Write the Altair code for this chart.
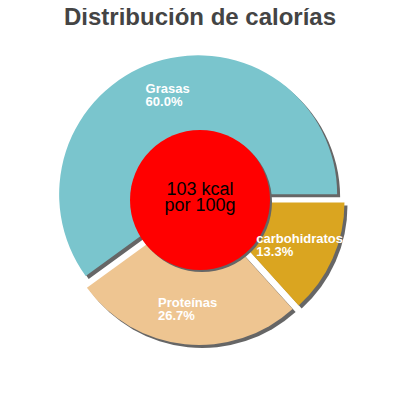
import math
import altair as alt
import pandas as pd

# ---- data ----
names = ["carbohidratos", "Proteínas", "Grasas"]
percents = [13.3, 26.7, 60.0]
colors = ["#DAA520", "#EEC591", "#7AC5CD"]
order = [0, 1, 2]
title_text = ["Distribución de calorías"]
center_text = ["103 kcal\npor 100g"]

df = pd.DataFrame({"name": names, "pct": percents, "ord": order})

# ---- geometry / style ----
TOP = 8
CX, CY = 192, 192 - TOP
R = 139
EXPLODE = 6
LABEL_R = 110
SHADOW = "#666666"

base = (
    alt.Chart(df)
    .transform_joinaggregate(total="sum(pct)")
    .transform_window(cum="sum(pct)", sort=[alt.SortField("ord")], frame=[None, 0])
    .transform_calculate(t1="PI/2 + 2*PI*(datum.cum - datum.pct)/datum.total")
    .transform_calculate(t2="PI/2 + 2*PI*datum.cum/datum.total")
    .transform_calculate(mid="(datum.t1 + datum.t2)/2")
    .transform_calculate(ox=f"{CX} + {EXPLODE}*sin(datum.mid)")
    .transform_calculate(oy=f"{CY} - {EXPLODE}*cos(datum.mid)")
    .transform_calculate(label="datum.name + '\\n' + format(datum.pct, '.1f') + '%'")
    .transform_calculate(lx=f"{CX} + {LABEL_R}*sin(datum.mid) - length(datum.name)*3.4")
    .transform_calculate(ly=f"{CY} - {LABEL_R}*cos(datum.mid)")
)

enc_pos = dict(
    x=alt.X("ox:Q", scale=None, axis=None),
    y=alt.Y("oy:Q", scale=None, axis=None),
    theta=alt.Theta("t1:Q", scale=None, stack=None),
    theta2="t2:Q",
)

shadows = base.mark_arc(radius=R, color=SHADOW, xOffset=3, yOffset=3).encode(**enc_pos)

slices = base.mark_arc(radius=R).encode(
    color=alt.Color("name:N", scale=alt.Scale(domain=names, range=colors), legend=None),
    **enc_pos,
)

labels = base.mark_text(
    align="left", baseline="middle", color="white", fontSize=13, fontWeight="bold",
    font="Liberation Sans", lineBreak="\n", lineHeight=13, dy=-6,
).encode(
    x=alt.X("lx:Q", scale=None, axis=None),
    y=alt.Y("ly:Q", scale=None, axis=None),
    text="label:N",
)

cdf = pd.DataFrame({"t": center_text})
circle_shadow = alt.Chart(cdf).mark_arc(
    radius=70, theta=0, theta2=2 * math.pi, color=SHADOW, xOffset=2, yOffset=2
).encode(x=alt.value(CX), y=alt.value(CY))
circle = alt.Chart(cdf).mark_arc(
    radius=70, theta=0, theta2=2 * math.pi, color="#FF0000"
).encode(x=alt.value(CX), y=alt.value(CY))
center_lbl = alt.Chart(cdf).mark_text(
    align="center", baseline="alphabetic", fontSize=18, font="Liberation Sans",
    color="black", lineBreak="\n", lineHeight=16,
).encode(x=alt.value(CX), y=alt.value(CY - 5), text="t:N")

tdf = pd.DataFrame({"t": title_text})
title = alt.Chart(tdf).mark_text(
    align="center", baseline="alphabetic", fontSize=24, fontWeight="bold",
    font="Liberation Sans", color="#444444",
).encode(x=alt.value(CX), y=alt.value(16 - TOP + 1), text="t:N")

chart = alt.layer(
    shadows, slices, circle_shadow, circle, labels, center_lbl, title
).properties(
    width=384, height=384 - TOP,
    padding={"left": 0, "top": TOP, "right": 0, "bottom": 0},
    autosize=alt.AutoSizeParams(type="none"),
).configure_view(stroke=None)

chart.save("out.html", embed_options={"renderer": "svg", "actions": False})
